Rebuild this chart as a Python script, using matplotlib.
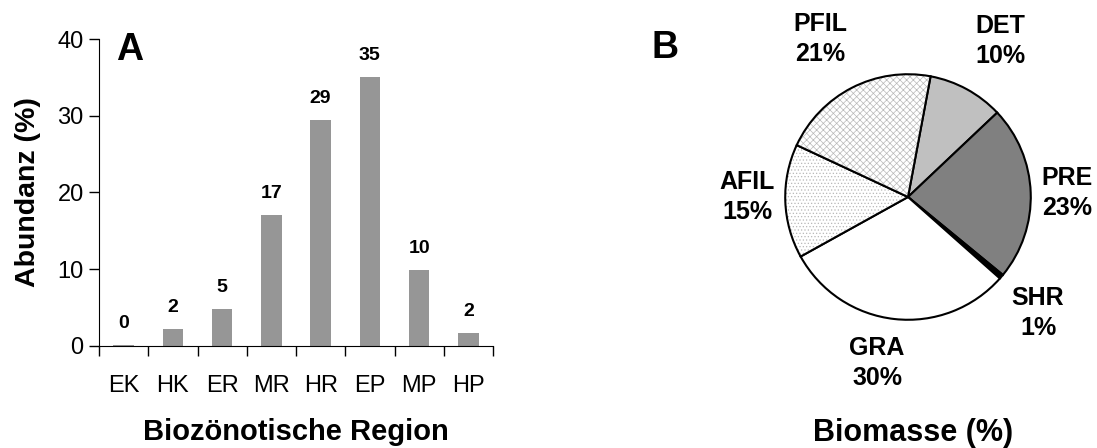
import matplotlib.pyplot as plt
import numpy as np

plt.rcParams['font.family'] = ['Liberation Sans', 'DejaVu Sans']
plt.rcParams['hatch.linewidth'] = 0.5

# panel A
regions = ['EK', 'HK', 'ER', 'MR', 'HR', 'EP', 'MP', 'HP']
abundance = [0.1, 2.2, 4.8, 17.1, 29.5, 35.1, 9.9, 1.7]
abundance_labels = ['0', '2', '5', '17', '29', '35', '10', '2']

# panel B
groups = ['DET', 'PRE', 'SHR', 'GRA', 'AFIL', 'PFIL']
biomass = [10, 23, 0.6, 30.4, 15, 21]
biomass_labels = ['10%', '23%', '1%', '30%', '15%', '21%']

W, H = 1097, 448
fig = plt.figure(figsize=(W / 100, H / 100), dpi=100)

# ---- A: bars
ax = fig.add_axes([99 / W, 1 - 345.7 / H, (493 - 99) / W, (345.7 - 39) / H])
x = np.arange(len(regions))
ax.bar(x, abundance, width=0.42, color='#969696')
for xi, v, lab in zip(x, abundance, abundance_labels):
    ax.annotate(lab, (xi, v), xytext=(0, 9), textcoords='offset points',
                ha='center', va='bottom', fontsize=14, fontweight='bold')
ax.set_xlim(-0.5, len(regions) - 0.5)
ax.set_ylim(0, 40)
ax.set_yticks([0, 10, 20, 30, 40])
ax.set_xticks(np.arange(len(regions) + 1) - 0.5)
ax.set_xticklabels([])
ax.set_xticks(x, minor=True)
ax.set_xticklabels(regions, minor=True)
ax.tick_params(axis='x', which='major', direction='out', length=7, width=1)
ax.tick_params(axis='x', which='minor', length=0, pad=21, labelsize=17)
ax.tick_params(axis='y', direction='out', length=7, width=1, labelsize=17, pad=4)
for s in ['top', 'right']:
    ax.spines[s].set_visible(False)
ax.set_ylabel('Abundanz (%)', fontsize=20.5, fontweight='bold', labelpad=12)
ax.set_xlabel('Biozönotische Region', fontsize=21, fontweight='bold', labelpad=15)
ax.text(130 / W, 1 - 50 / H, 'A', transform=fig.transFigure, fontsize=27,
        fontweight='bold', ha='center', va='center')

# ---- B: pie
cx, cy, r = 908, 197, 124
pax = fig.add_axes([(cx - r) / W, 1 - (cy + r) / H, 2 * r / W, 2 * r / H])
wedges, _ = pax.pie(biomass, startangle=79.4, counterclock=False, radius=1,
                    colors=['#c0c0c0', '#808080', '#000000', 'white', 'white', 'white'],
                    wedgeprops=dict(edgecolor='black', linewidth=1.5))
wedges[4].set_hatch('.....')
wedges[5].set_hatch('xxxxx')
for w in wedges[4:]:
    w.set_edgecolor('black')
    w._hatch_color = (0.72, 0.72, 0.72, 1)
pax.set_xlim(-1.01, 1.01)
pax.set_ylim(-1.01, 1.01)
pax.set_aspect('equal')
pax.axis('off')

label_pos = {'DET': (1000, 41), 'PRE': (1067, 193), 'SHR': (1038, 313),
             'GRA': (877, 363), 'AFIL': (747, 197), 'PFIL': (820, 39)}
for g, lab in zip(groups, biomass_labels):
    px, py = label_pos[g]
    fig.text(px / W, 1 - py / H, g + '\n' + lab, ha='center', va='center',
             fontsize=18, fontweight='bold', linespacing=1.3)

fig.text(913 / W, 1 - 433 / H, 'Biomasse (%)', ha='center', va='center',
         fontsize=22, fontweight='bold')
fig.text(665 / W, 1 - 48 / H, 'B', ha='center', va='center',
         fontsize=27, fontweight='bold')

fig.savefig('out.png', dpi=100)
